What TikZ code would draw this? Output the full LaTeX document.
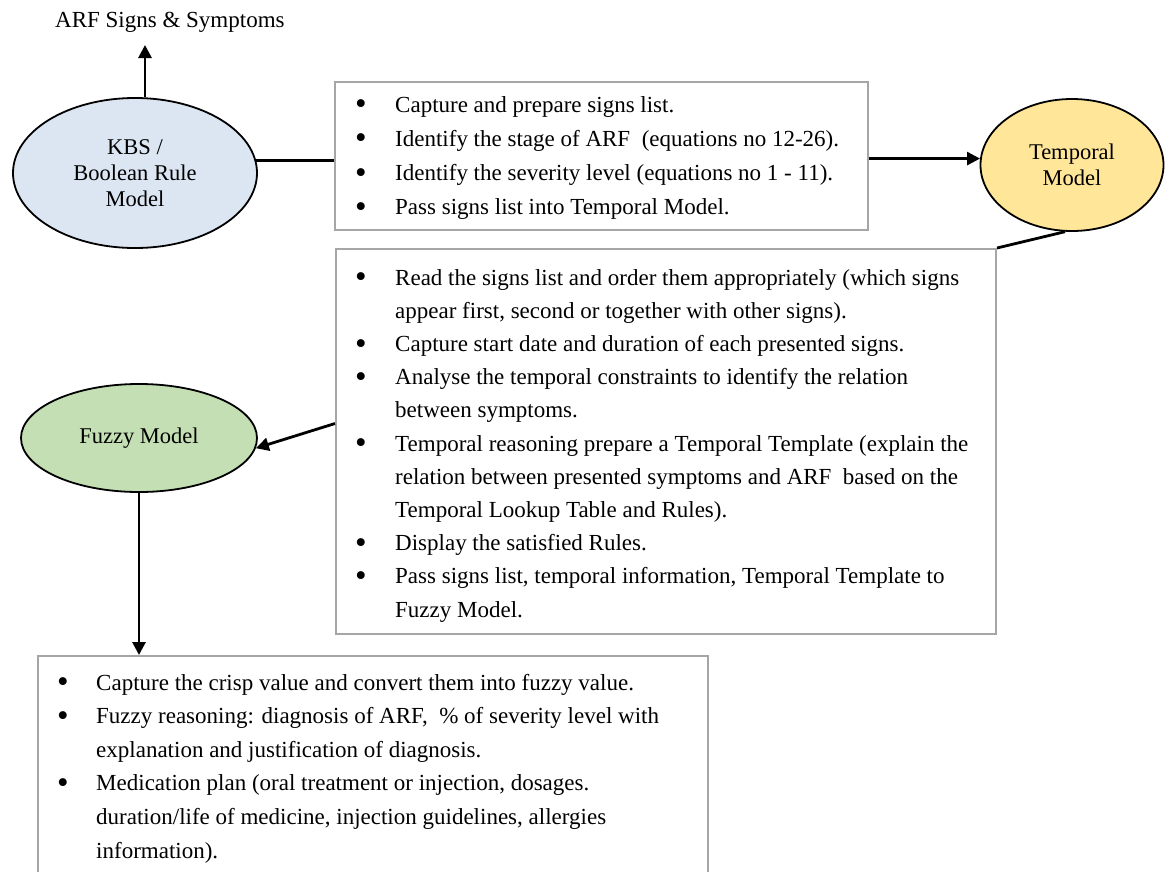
\documentclass[tikz,border=0pt]{standalone}
\usepackage{fontspec}
\setmainfont{Liberation Serif}
\usetikzlibrary{shapes.geometric,arrows.meta}
\definecolor{kbsblue}{HTML}{DCE6F2}
\definecolor{tmyellow}{HTML}{FFE699}
\definecolor{fzgreen}{HTML}{C4DFB4}
\definecolor{boxgray}{HTML}{A6A6A6}
\newcommand\bul{\raisebox{-2.6pt}{\fontsize{33}{33}\selectfont\textbullet}}
\tikzset{
  oval/.style={ellipse, draw=black, line width=1.8pt, inner sep=0pt, align=center,
    font=\fontsize{22.5}{26}\selectfont},
  panel/.style={draw=boxgray, line width=2pt, inner sep=0pt},
  conn/.style={draw=black, line width=2.8pt},
  arr/.style={conn, -{Triangle[length=13pt,width=13pt]}},
  txt/.style={inner sep=0pt, anchor=base west, align=left}
}
\begin{document}
\begin{tikzpicture}[x=1pt,y=-1pt]
\useasboundingbox (0,0) rectangle (1168,871);
\fill[white] (0,0) rectangle (1168,871);
% ellipses
\node[oval, fill=kbsblue, minimum width=244pt, minimum height=150pt] (kbs) at (135,173)
  {KBS /\\Boolean Rule\\Model};
\node[oval, fill=tmyellow, minimum width=183pt, minimum height=132pt] (tm) at (1072,165)
  {Temporal\\Model};
\node[oval, fill=fzgreen, minimum width=236pt, minimum height=108pt] (fz) at (139,438)
  {Fuzzy Model};
% label
\node[inner sep=0pt, font=\fontsize{23}{26}\selectfont, anchor=base west] (arf) at (55,27) {ARF Signs \& Symptoms};
\coordinate (arftip) at (145,45);
% boxes
\node[panel, minimum width=533pt, minimum height=148pt] (box1) at (601.5,156) {};
\node[panel, minimum width=660pt, minimum height=385pt] (box2) at (666,441.5) {};
\node[panel, minimum width=670pt, minimum height=250pt] (box3) at (373,781) {};
% box texts
\node[txt, font=\fontsize{23}{34.3}\selectfont] (t1) at (355,112) {\begin{tabular}[t]{@{}p{40pt}@{}l@{}}
\bul & Capture and prepare signs list.\\
\bul & Identify the stage of ARF\ \ (equations no 12-26).\\
\bul & Identify the severity level (equations no 1 - 11).\\
\bul & Pass signs list into Temporal Model.
\end{tabular}};
\node[txt, font=\fontsize{23}{33.2}\selectfont] (t2) at (355,285) {\begin{tabular}[t]{@{}p{40pt}@{}l@{}}
\bul & Read the signs list and order them appropriately (which signs\\
 & appear first, second or together with other signs).\\
\bul & Capture start date and duration of each presented signs.\\
\bul & Analyse the temporal constraints to identify the relation\\
 & between symptoms.\\
\bul & Temporal reasoning prepare a Temporal Template (explain the\\
 & relation between presented symptoms and ARF\ \ based on the\\
 & Temporal Lookup Table and Rules).\\
\bul & Display the satisfied Rules.\\
\bul & Pass signs list, temporal information, Temporal Template to\\
 & Fuzzy Model.
\end{tabular}};
\node[txt, font=\fontsize{23}{33.6}\selectfont] (t3) at (57,690) {\begin{tabular}[t]{@{}p{39pt}@{}l@{}}
\bul & Capture the crisp value and convert them into fuzzy value.\\
\bul & Fuzzy reasoning: diagnosis of ARF,\ \ \% of severity level with\\
 & explanation and justification of diagnosis.\\
\bul & Medication plan (oral treatment or injection, dosages.\\
 & duration/life of medicine, injection guidelines, allergies\\
 & information).
\end{tabular}};
% connectors
\draw[arr] (kbs.north -| arftip) -- (arftip);
\draw[conn] (kbs.6.7) -- (kbs.6.7 -| box1.west);
\draw[arr] (tm.176 -| box1.east) -- (tm.176);
\draw[conn] (tm.264) -- (box2.north east);
\draw[arr] ([yshift=18pt]box2.west) -- (fz.-5);
\draw[arr] (fz.south) -- (fz.south |- box3.north);
\end{tikzpicture}
\end{document}
